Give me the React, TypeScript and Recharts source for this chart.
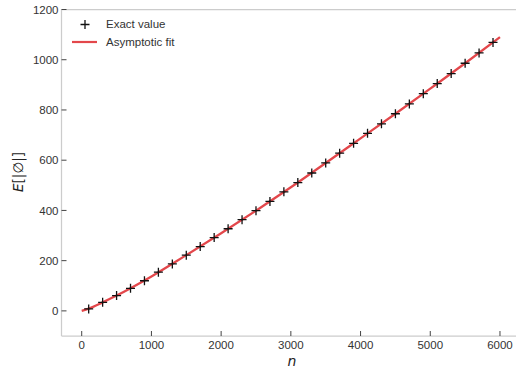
import React from 'react';
import { ComposedChart, Line, Scatter, XAxis, YAxis, Legend, ReferenceLine } from 'recharts';

const exactN = [100, 300, 500, 700, 900, 1100, 1300, 1500, 1700, 1900, 2100, 2300, 2500, 2700, 2900, 3100, 3300, 3500, 3700, 3900, 4100, 4300, 4500, 4700, 4900, 5100, 5300, 5500, 5700, 5900];
const exactValues = [8, 34, 61, 90, 120, 154, 187, 222, 256, 292, 327, 363, 399, 436, 474, 511, 549, 589, 628, 667, 707, 745, 785, 824, 865, 905, 945, 986, 1027, 1069];
const fitN = [0, 100, 300, 500, 1000, 1500, 2000, 2500, 3000, 3500, 4000, 4500, 5000, 5500, 6000];
const fitValues = [0, 9, 34, 61, 137, 222, 309, 399, 492, 589, 687, 785, 885, 986, 1090];
const xTicks = [0, 1000, 2000, 3000, 4000, 5000, 6000];
const yTicks = [0, 200, 400, 600, 800, 1000, 1200];
const legendLabels = ['Exact value', 'Asymptotic fit'];

const exactData = exactN.map((n, i) => ({ n, v: exactValues[i] }));
const fitData = fitN.map((n, i) => ({ n, v: fitValues[i] }));

const FONT = '"Liberation Sans", Arial, sans-serif';
const RED = '#e3474b';

const Plus = (props: any) => {
  const { cx, cy } = props;
  if (cx == null || cy == null) return null;
  return (
    <path d={`M${cx - 4.5},${cy}H${cx + 4.5}M${cx},${cy - 4.5}V${cy + 4.5}`} stroke="#111" strokeWidth={1.3} fill="none" />
  );
};

const LegendContent = () => (
  <svg width={220} height={52} style={{ display: 'block', overflow: 'visible' }}>
    <path d="M80.5,24.5H89.5M85,20V29" stroke="#111" strokeWidth={1.3} />
    <text x={106} y={28.3} fontFamily={FONT} fontSize={11.5} fill="#333">{legendLabels[0]}</text>
    <line x1={72} x2={97} y1={42} y2={42} stroke={RED} strokeWidth={2.2} />
    <text x={106} y={45.8} fontFamily={FONT} fontSize={11.5} fill="#333">{legendLabels[1]}</text>
  </svg>
);

const YLabel = () => (
  <text
    x={0}
    y={0}
    transform="translate(23,172) rotate(-90)"
    textAnchor="middle"
    fontFamily='"DejaVu Sans", sans-serif'
    fontSize={13.5}
    fill="#222"
  >
    <tspan fontStyle="italic">E</tspan>
    <tspan>[|∅|]</tspan>
  </text>
);

const XLabel = () => (
  <text x={292} y={366} textAnchor="middle" fontFamily='"DejaVu Sans", sans-serif' fontSize={14} fontStyle="italic" fill="#222">
    n
  </text>
);

export default function App() {
  return (
    <div style={{ position: 'fixed', left: 0, top: 0, width: 516, height: 373, overflow: 'hidden', background: '#fff' }}>
      <ComposedChart width={530} height={373} margin={{ top: 9.5, right: 9.8, left: 0, bottom: 0 }}>
        <XAxis
          type="number"
          dataKey="n"
          domain={[-290, 6290]}
          ticks={xTicks}
          allowDataOverflow
          height={37}
          axisLine={{ stroke: '#cccccc', strokeWidth: 1.25 }}
          tickLine={{ stroke: '#444', strokeWidth: 1 }}
          tickSize={-5}
          tickMargin={10}
          tick={{ fill: '#333', fontSize: 11.5, fontFamily: FONT }}
          label={<XLabel />}
        />
        <YAxis
          type="number"
          dataKey="v"
          domain={[-100, 1200]}
          ticks={yTicks}
          allowDataOverflow
          width={61.5}
          axisLine={{ stroke: '#cccccc', strokeWidth: 1.25 }}
          tickLine={{ stroke: '#444', strokeWidth: 1 }}
          tickSize={-5}
          tickMargin={8}
          tick={{ fill: '#333', fontSize: 11.5, fontFamily: FONT }}
          label={<YLabel />}
        />
        <ReferenceLine y={1200} stroke="#cccccc" strokeWidth={1.25} />
        <Line
          data={fitData}
          dataKey="v"
          type="monotone"
          stroke={RED}
          strokeWidth={2.3}
          dot={false}
          activeDot={false}
          isAnimationActive={false}
        />
        <Scatter data={exactData} dataKey="v" shape={<Plus />} isAnimationActive={false} />
        <Legend
          layout="horizontal"
          verticalAlign="middle"
          align="center"
          content={<LegendContent />}
          wrapperStyle={{ position: 'absolute', left: 0, top: 0, width: 220, height: 52 }}
        />
      </ComposedChart>
    </div>
  );
}
